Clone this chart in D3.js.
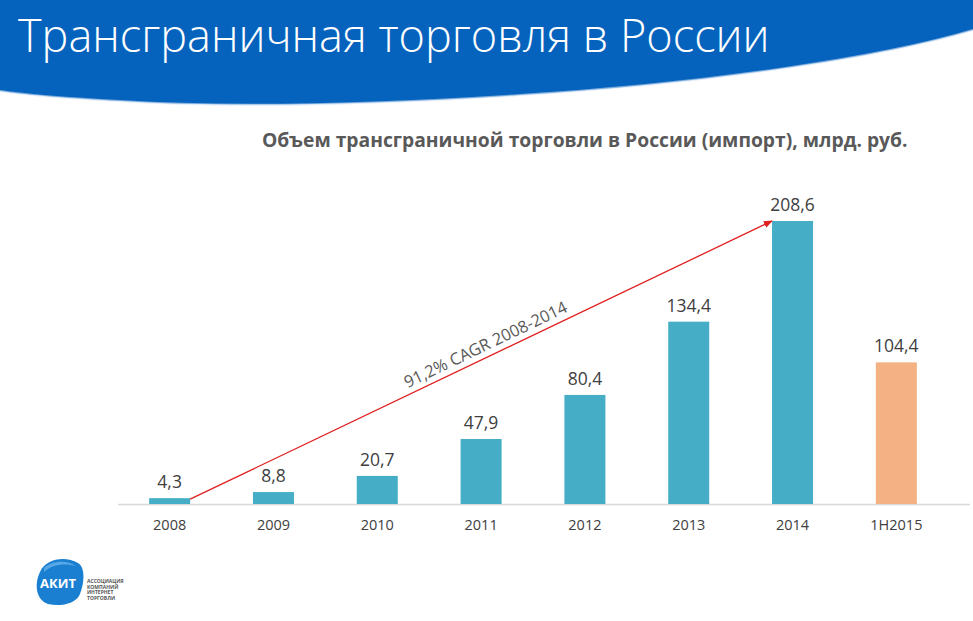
<!DOCTYPE html>
<html><head><meta charset="utf-8">
<script src="https://cdn.jsdelivr.net/npm/d3@7"></script>
<style>body{margin:0;background:#fff;}svg{display:block;}</style>
</head><body>
<svg id="c" width="973" height="621"></svg>
<script>
const categories = ["2008","2009","2010","2011","2012","2013","2014","1H2015"];
const values = [4.3, 8.8, 20.7, 47.9, 80.4, 134.4, 208.6, 104.4];
const valueLabels = ["4,3","8,8","20,7","47,9","80,4","134,4","208,6","104,4"];
const highlight = ["1H2015"];
const titleText = "Трансграничная торговля в России";
const subtitleText = "Объем трансграничной торговли в России (импорт), млрд. руб.";
const cagrText = "91,2% CAGR 2008-2014";
const logoLines = ["АССОЦИАЦИЯ","КОМПАНИЙ","ИНТЕРНЕТ","ТОРГОВЛИ"];

const svg = d3.select("#c");

// banner
svg.append("path")
  .attr("d","M0,0 L973,0 L973,30 C880,58 700,84 520,95 C380,104 230,108 120,101 C60,98 20,94 0,91 Z")
  .attr("fill","#0563be");
svg.append("path")
  .attr("d","M973,30 C880,58 700,84 520,95 C380,104 230,108 120,101 C60,98 20,94 0,91")
  .attr("fill","none").attr("stroke","#cfe0f3").attr("stroke-width",2).attr("opacity",0.6);

function fit(sel, w){
  const n = sel.node(); const l = n.getComputedTextLength();
  const fs = parseFloat(sel.attr("font-size"));
  sel.attr("font-size", fs*w/l);
}
const title = svg.append("text").attr("x",18).attr("y",52)
  .attr("font-family","'Open Sans', sans-serif").attr("font-weight",300).attr("font-size",42)
  .attr("fill","#fff").text(titleText);
fit(title, 752);

const sub = svg.append("text").attr("x",262).attr("y",147)
  .attr("font-family","'Open Sans', sans-serif").attr("font-weight",700).attr("font-size",18)
  .attr("fill","#595959").text(subtitleText);
fit(sub, 646);

const x = d3.scaleBand().domain(categories).range([118, 948]).paddingInner(0.605).paddingOuter(0.3);
const y = d3.scaleLinear().domain([0, 208.6]).range([504, 221]);

// axis
const xAxis = svg.append("g").attr("transform","translate(0,504)")
  .call(d3.axisBottom(x).tickSize(0).tickPadding(16));
xAxis.select(".domain").remove();
xAxis.selectAll("text").attr("font-family","'Open Sans', sans-serif").attr("font-size",14.5).attr("fill","#404040");
svg.append("line").attr("x1",118).attr("x2",970).attr("y1",504.5).attr("y2",504.5)
  .attr("stroke","#d9d9d9").attr("stroke-width",1.5);

svg.append("g").selectAll("rect").data(categories).join("rect")
  .attr("x", d=>x(d)).attr("width", x.bandwidth())
  .attr("y", (d,i)=>y(values[i])).attr("height",(d,i)=>504-y(values[i]))
  .attr("fill", d=> highlight.includes(d) ? "#f4b183" : "#45aec6");

svg.append("g").selectAll("text").data(categories).join("text")
  .attr("x", d=>x(d)+x.bandwidth()/2).attr("y",(d,i)=>y(values[i])-10)
  .attr("text-anchor","middle").attr("font-family","'Open Sans', sans-serif")
  .attr("font-size",17.5).attr("fill","#404040").text((d,i)=>valueLabels[i]);

// CAGR arrow
const defs = svg.append("defs");
defs.append("marker").attr("id","ah").attr("viewBox","0 0 10 10").attr("refX",9).attr("refY",5)
  .attr("markerWidth",7).attr("markerHeight",7).attr("orient","auto")
  .append("path").attr("d","M0,1 L10,5 L0,9 Z").attr("fill","#e02020");
const x0 = x("2008")+x.bandwidth(), y0 = y(values[0])+1;
const x1 = x("2014"), y1 = y(values[6]);
svg.append("line").attr("x1",x0).attr("y1",y0).attr("x2",x1).attr("y2",y1)
  .attr("stroke","#e02020").attr("stroke-width",1.3).attr("marker-end","url(#ah)");
const ang = Math.atan2(y1-y0, x1-x0)*180/Math.PI;
const tx = 488, ty = y0 + (tx-x0)*(y1-y0)/(x1-x0) - 7;
svg.append("text").attr("transform",`translate(${tx},${ty}) rotate(${ang})`)
  .attr("text-anchor","middle").attr("font-family","'Open Sans', sans-serif")
  .attr("font-size",16.5).attr("fill","#595959").text(cagrText);

// logo
const lg = svg.append("g");
lg.append("path").attr("d","M40,572 C46,558 66,556 78,563 C86,568 84,584 80,594 C76,604 60,607 48,604 C36,600 34,584 40,572 Z")
  .attr("fill","#1a7fd1");
lg.append("path").attr("d","M44,568 C52,560 68,560 76,566 C66,563 52,564 44,572 Z").attr("fill","#6fb8ee").attr("opacity",0.7);
lg.append("text").attr("x",58).attr("y",588).attr("text-anchor","middle")
  .attr("font-family","'Open Sans', sans-serif").attr("font-weight",700).attr("font-size",13)
  .attr("fill","#fff").text("АКИТ");
lg.selectAll("text.l").data(logoLines).join("text").attr("class","l")
  .attr("x",87).attr("y",(d,i)=>583+i*5.5)
  .attr("font-family","'Open Sans', sans-serif").attr("font-weight",700).attr("font-size",5)
  .attr("fill","#555").text(d=>d);
</script>
</body></html>
